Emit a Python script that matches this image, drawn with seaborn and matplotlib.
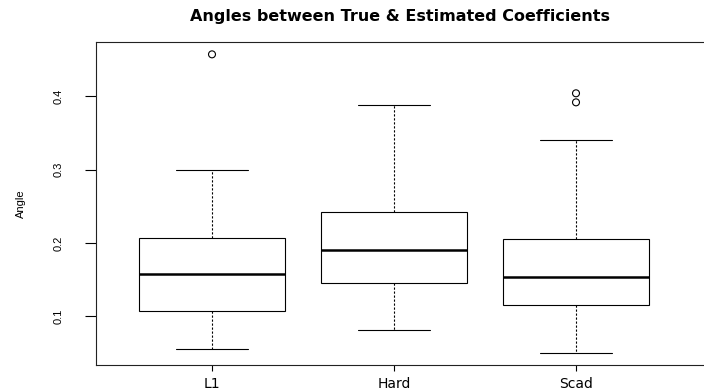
import matplotlib
matplotlib.use("Agg")
import matplotlib.pyplot as plt
import seaborn as sns
import pandas as pd

# ---- data (five-number summaries per method) ----
methods = ["L1", "Hard", "Scad"]
l1_angles = [0.0562, 0.1079, 0.1578, 0.2064, 0.2989]
hard_angles = [0.0816, 0.1452, 0.1905, 0.2426, 0.3880]
scad_angles = [0.0503, 0.1152, 0.1541, 0.2050, 0.3397]
l1_outliers = [0.4567]
hard_outliers = []
scad_outliers = [0.4037, 0.3914]
y_ticks = [0.1, 0.2, 0.3, 0.4]
title = "Angles between True & Estimated Coefficients"
y_label = "Angle"

box_df = pd.DataFrame({
    "method": ["L1"] * len(l1_angles) + ["Hard"] * len(hard_angles) + ["Scad"] * len(scad_angles),
    "angle": l1_angles + hard_angles + scad_angles,
})
out_df = pd.DataFrame({
    "method": ["L1"] * len(l1_outliers) + ["Hard"] * len(hard_outliers) + ["Scad"] * len(scad_outliers),
    "angle": l1_outliers + hard_outliers + scad_outliers,
})

sns.set_style("white")
plt.rcParams["font.family"] = ["DejaVu Sans"]
plt.rcParams["text.color"] = "black"
plt.rcParams["axes.labelcolor"] = "black"
plt.rcParams["xtick.color"] = "black"
plt.rcParams["ytick.color"] = "black"

fig = plt.figure(figsize=(7.04, 3.92), dpi=100)
ax = fig.add_axes([96 / 704, (392 - 365) / 392, 1 - 96 / 704, (365 - 42) / 392])

lw = 0.8
sns.boxplot(
    data=box_df, x="method", y="angle", order=methods, ax=ax,
    whis=(0, 100), width=0.8, color="white", linecolor="black",
    linewidth=lw, showfliers=False,
    whiskerprops=dict(linestyle=(0, (2.0, 1.6)), linewidth=lw, color="black"),
    capprops=dict(linewidth=lw, color="black"),
    medianprops=dict(linewidth=1.8, color="black"),
    boxprops=dict(linewidth=lw, edgecolor="black", facecolor="white"),
)
sns.stripplot(
    data=out_df, x="method", y="angle", order=methods, ax=ax,
    jitter=False, size=5, marker="o", color="black", linewidth=0.8,
)
for coll in ax.collections:
    coll.set_facecolor("none")
    coll.set_edgecolor("black")
    coll.set_linewidth(0.8)

ax.set_xlim(-(212 - 96) / 182, (704 - 212) / 182)
ax.set_ylim(0.034, 0.4735)

ax.set_yticks(y_ticks)
ax.set_yticklabels([f"{t:.1f}" for t in y_ticks], rotation=90, va="center",
                   fontsize=8, family="Liberation Sans")
ax.set_xticks(range(len(methods)))
ax.set_xticklabels(methods, fontsize=10)
ax.tick_params(axis="y", direction="out", length=8, width=0.8, pad=15, left=True)
ax.tick_params(axis="x", direction="out", length=4.5, width=0.8, pad=4.5, bottom=True)

for side in ["left", "bottom", "top"]:
    ax.spines[side].set_visible(True)
    ax.spines[side].set_linewidth(0.8)
    ax.spines[side].set_color("#222222")
ax.spines["right"].set_visible(False)

ax.set_xlabel("")
ax.set_ylabel(y_label, fontsize=8, labelpad=20, family="Liberation Sans")
fig.text(0.5 + 48 / 704, 1 - 16 / 392, title, ha="center", va="center",
         fontsize=11.5, fontweight="bold")

fig.savefig("out.png", dpi=100)
